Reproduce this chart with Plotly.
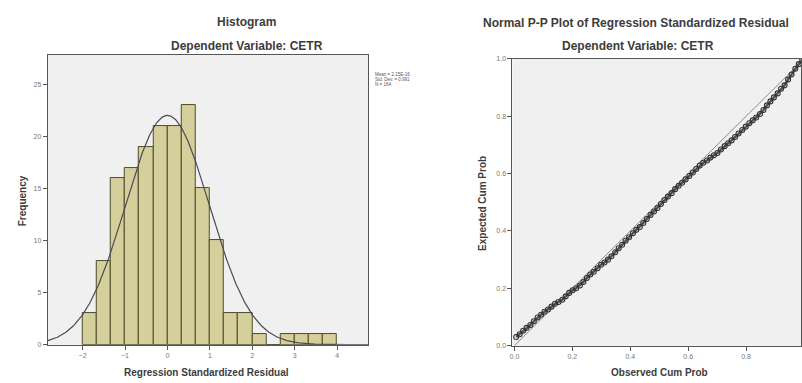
import numpy as np
import plotly.graph_objects as go

# ---------------- data ----------------
bin_width = 1 / 3
bin_start = -2.0
hist_counts = [3, 8, 16, 17, 19, 21, 21, 23, 15, 10, 3, 3, 1, 0, 1, 1, 1, 1]
res_mean = 2.15e-16
res_sd = 0.991
res_n = 164
hist_xticks = [-2, -1, 0, 1, 2, 3, 4]
hist_yticks = [0, 5, 10, 15, 20, 25]

pp_observed = [0.006, 0.018, 0.030, 0.042, 0.055, 0.067, 0.080, 0.092, 0.104, 0.116,
               0.128, 0.140, 0.152, 0.165, 0.177, 0.189, 0.201, 0.213, 0.226, 0.238,
               0.250, 0.262, 0.274, 0.287, 0.299, 0.311, 0.323, 0.335, 0.348, 0.360,
               0.372, 0.384, 0.396, 0.409, 0.421, 0.433, 0.445, 0.457, 0.470, 0.482,
               0.494, 0.506, 0.518, 0.530, 0.543, 0.555, 0.567, 0.579, 0.591, 0.604,
               0.616, 0.628, 0.640, 0.652, 0.665, 0.677, 0.689, 0.701, 0.713, 0.726,
               0.738, 0.750, 0.762, 0.774, 0.787, 0.799, 0.811, 0.823, 0.835, 0.848,
               0.860, 0.872, 0.884, 0.896, 0.909, 0.921, 0.933, 0.945, 0.957, 0.970,
               0.982, 0.994]
pp_expected = [0.030, 0.040, 0.052, 0.062, 0.072, 0.085, 0.098, 0.108, 0.118, 0.126,
               0.136, 0.146, 0.152, 0.160, 0.172, 0.184, 0.193, 0.200, 0.210, 0.222,
               0.236, 0.248, 0.258, 0.270, 0.282, 0.290, 0.300, 0.312, 0.326, 0.340,
               0.352, 0.366, 0.378, 0.392, 0.404, 0.414, 0.428, 0.442, 0.456, 0.468,
               0.480, 0.494, 0.508, 0.520, 0.532, 0.546, 0.558, 0.568, 0.580, 0.592,
               0.604, 0.616, 0.628, 0.638, 0.646, 0.656, 0.664, 0.672, 0.684, 0.696,
               0.706, 0.716, 0.728, 0.740, 0.752, 0.764, 0.776, 0.786, 0.796, 0.808,
               0.822, 0.838, 0.852, 0.866, 0.880, 0.896, 0.908, 0.928, 0.946, 0.966,
               0.982, 0.996]
diag_line = [0.0, 1.0]
pp_ticks = [0.0, 0.2, 0.4, 0.6, 0.8, 1.0]
pp_ticklabels = ["0.0", "0.2", "0.4", "0.6", "0.8", "1.0"]

# ---------------- figure ----------------
W, H = 802, 383
FONT = "Liberation Sans, Arial, sans-serif"
AX = "#555555"

def px(x):
    return x / W

def py(y):
    return 1 - y / H

bin_centers = [bin_start + bin_width * (i + 0.5) for i in range(len(hist_counts))]

hx0, hx1 = -2.82, 4.73
xc = np.linspace(hx0, hx1, 400)
yc = res_n * bin_width * np.exp(-0.5 * ((xc - res_mean) / res_sd) ** 2) / (res_sd * np.sqrt(2 * np.pi))

fig = go.Figure()

fig.add_trace(go.Bar(
    x=bin_centers, y=hist_counts, width=bin_width,
    marker=dict(color="#D5CF9B", line=dict(color="#4F4B2A", width=1)),
    xaxis="x", yaxis="y", showlegend=False, hoverinfo="skip"))

fig.add_trace(go.Scatter(
    x=xc, y=yc, mode="lines", line=dict(color="#4B4B55", width=1.2),
    xaxis="x", yaxis="y", showlegend=False, hoverinfo="skip"))

fig.add_trace(go.Scatter(
    x=diag_line, y=diag_line, mode="lines", line=dict(color="#8C8C8C", width=1),
    xaxis="x2", yaxis="y2", showlegend=False, hoverinfo="skip"))

fig.add_trace(go.Scatter(
    x=pp_observed, y=pp_expected, mode="lines+markers",
    line=dict(color="#505050", width=2.5),
    marker=dict(symbol="circle-open", size=5, color="#333333", line=dict(width=1.1)),
    xaxis="x2", yaxis="y2", showlegend=False, hoverinfo="skip"))

axis_common = dict(showgrid=False, zeroline=False, showline=True, linecolor=AX, linewidth=1,
                   mirror=True, ticks="outside", ticklen=4, tickcolor=AX,
                   tickfont=dict(family=FONT, size=7, color="#777777"))

fig.update_layout(
    width=W, height=H,
    margin=dict(l=0, r=0, t=0, b=0),
    paper_bgcolor="white",
    plot_bgcolor="#F0F0F0",
    bargap=0,
    xaxis=dict(domain=[px(45), px(367)], range=[hx0, hx1], tickvals=hist_xticks,
               anchor="y", **axis_common),
    yaxis=dict(domain=[py(347), py(52)], range=[0, 27.8], tickvals=hist_yticks,
               anchor="x", **axis_common),
    xaxis2=dict(domain=[px(512), 1.0], range=[-0.0069, 0.9897], tickvals=pp_ticks,
                ticktext=pp_ticklabels, anchor="y2", **axis_common),
    yaxis2=dict(domain=[py(348), py(56)], range=[0, 1], tickvals=pp_ticks,
                ticktext=pp_ticklabels, anchor="x2", **axis_common),
)

TT = dict(family=FONT, size=12, color="#3C3C3C")
AT = dict(family=FONT, size=10, color="#3C3C3C")

def ann(text, x, y, font, angle=0, xanchor="center"):
    fig.add_annotation(text=text, x=px(x), y=py(y), xref="paper", yref="paper",
                       showarrow=False, font=font, textangle=angle,
                       xanchor=xanchor, yanchor="middle")

ann("<b>Histogram</b>", 245, 18, TT)
ann("<b>Dependent Variable: CETR</b>", 245, 43, TT)
ann("<b>Normal P-P Plot of Regression Standardized Residual</b>", 636, 19, TT)
ann("<b>Dependent Variable: CETR</b>", 638, 43, TT)
ann("<b>Frequency</b>", 19, 200, AT, angle=-90)
ann("<b>Regression Standardized Residual</b>", 205, 375, AT)
ann("<b>Expected Cum Prob</b>", 482, 203, AT, angle=-90)
ann("<b>Observed Cum Prob</b>", 660, 375, AT)

LF = dict(family=FONT, size=4.5, color="#555555")
ann("Mean = 2.15E-16", 372, 72, LF, xanchor="left")
ann("Std. Dev. = 0.991", 372, 77, LF, xanchor="left")
ann("N = 164", 372, 82, LF, xanchor="left")

fig.write_html(
    "out.html",
    config={"displayModeBar": False},
    post_script="document.body.style.margin='0';document.body.style.overflow='hidden';",
)
